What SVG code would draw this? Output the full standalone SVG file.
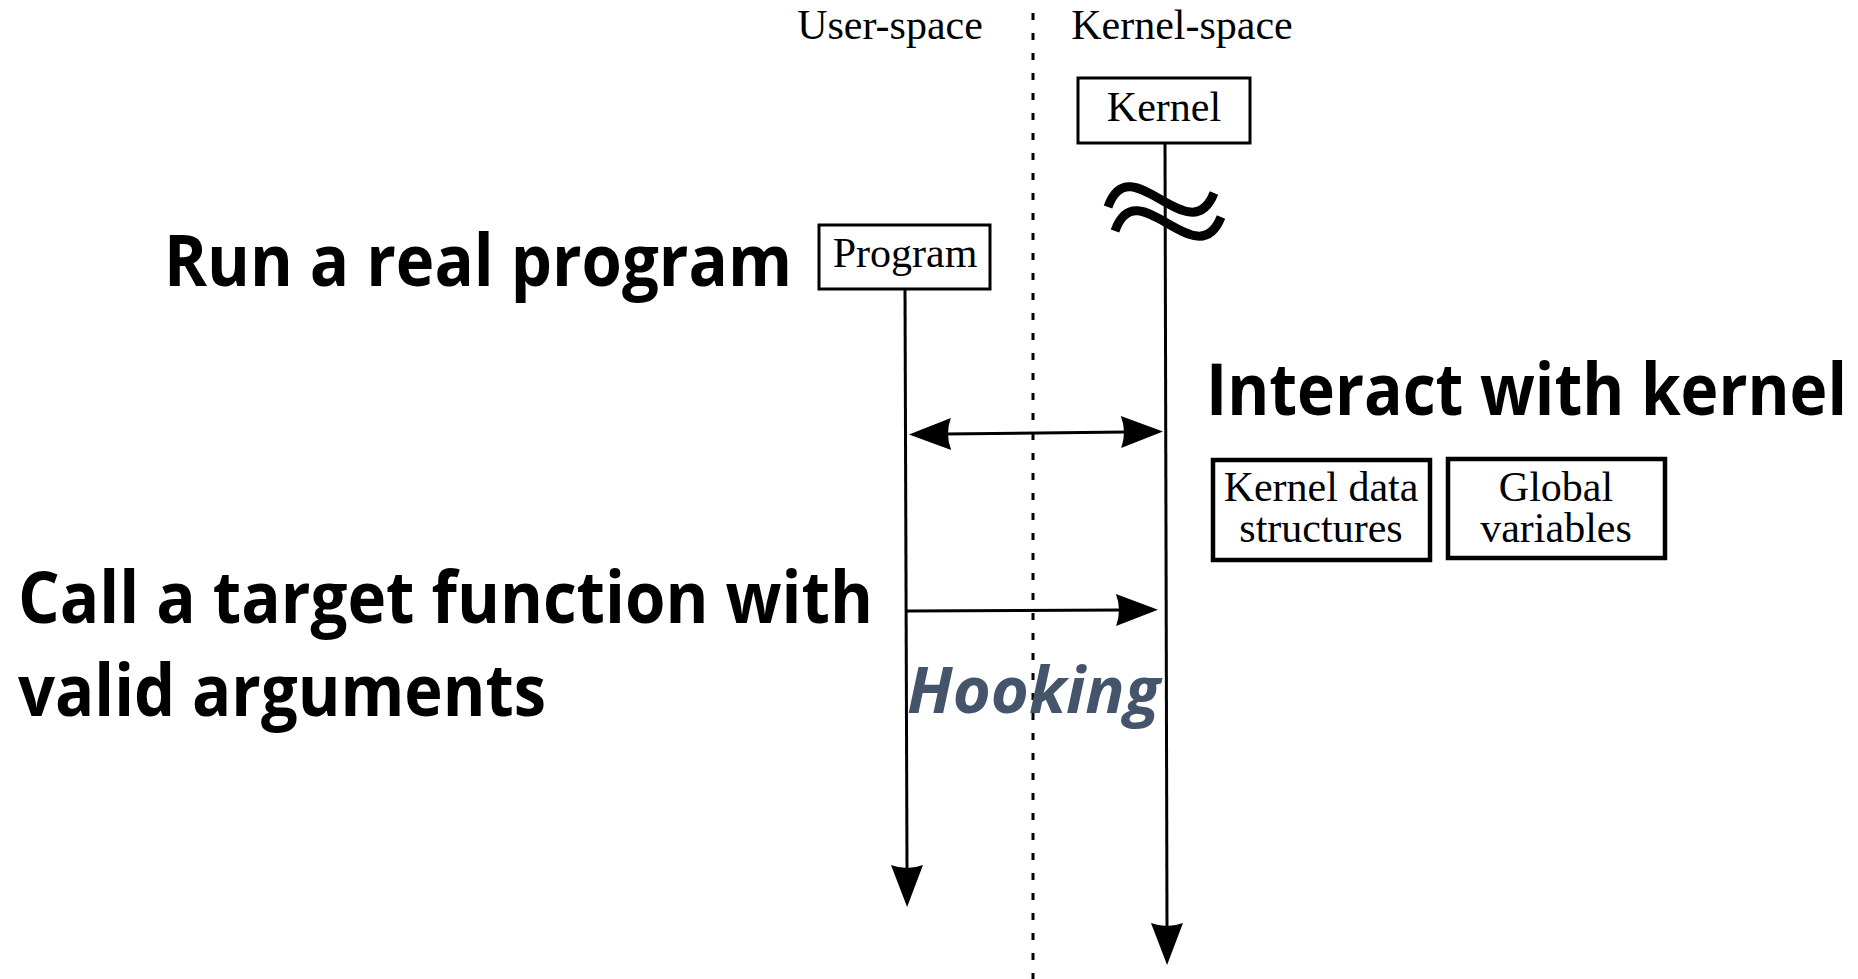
<svg xmlns="http://www.w3.org/2000/svg" width="1858" height="979" viewBox="0 0 1858 979">
  <defs>
    <style>
      .serif { font-family: "Liberation Serif", "Times New Roman", serif; font-size: 42px; fill: #000; }
      .head { font-family: "Open Sans", "Noto Sans", sans-serif; font-weight: 700; font-size: 72px; fill: #000; }
      .hook { font-family: "Open Sans", "Noto Sans", sans-serif; font-weight: 700; font-style: italic; font-size: 64px; fill: #44546a; }
      .box { fill: #fff; stroke: #000; stroke-width: 3; }
      .box-thick { fill: #fff; stroke: #000; stroke-width: 4.5; }
      .life { fill: none; stroke: #000; stroke-width: 3; }
      .msg { fill: none; stroke: #000; stroke-width: 3; }
      .divider { fill: none; stroke: #000; stroke-width: 3; stroke-dasharray: 7 13; }
      .wave { fill: none; stroke: #000; stroke-width: 9; }
    </style>
    <marker id="arrow" markerUnits="userSpaceOnUse" viewBox="-8 -18 46 36" markerWidth="46" markerHeight="36" refX="0" refY="0" orient="auto-start-reverse" overflow="visible">
      <path d="M36,0 L-6,-16 Q0,0 -6,16 Z" fill="#000"/>
    </marker>
  </defs>

  <!-- user / kernel boundary -->
  <g id="boundary">
    <line class="divider" x1="1033" y1="13" x2="1033" y2="979"/>
    <text class="serif" x="890" y="39" text-anchor="middle">User-space</text>
    <text class="serif" x="1182" y="39" text-anchor="middle">Kernel-space</text>
  </g>

  <!-- lifelines and messages -->
  <g id="connectors">
    <path class="life" d="M905,289 L907,871" marker-end="url(#arrow)"/>
    <path class="life" d="M1165,143 L1167,929" marker-end="url(#arrow)"/>
    <path class="msg" d="M945,434 L1127,432" marker-start="url(#arrow)" marker-end="url(#arrow)"/>
    <path class="msg" d="M907,611 L1122,610" marker-end="url(#arrow)"/>
    <!-- break mark on the kernel lifeline -->
    <path class="wave" d="M1108,207 C1130,144 1190,254 1214,193"/>
    <path class="wave" d="M1115,231 C1137,168 1197,278 1221,217"/>
  </g>

  <g id="kernel">
    <rect class="box" x="1078" y="78" width="172" height="65"/>
    <text class="serif" x="1164" y="121" text-anchor="middle">Kernel</text>
  </g>

  <g id="program">
    <rect class="box" x="819" y="225" width="171" height="64"/>
    <text class="serif" x="905" y="267" text-anchor="middle">Program</text>
  </g>

  <g id="kernel-data">
    <rect class="box-thick" x="1213" y="460" width="217" height="100"/>
    <text class="serif" x="1321" y="501" text-anchor="middle">Kernel data</text>
    <text class="serif" x="1321" y="542" text-anchor="middle">structures</text>
  </g>

  <g id="global-vars">
    <rect class="box-thick" x="1448" y="459" width="217" height="99"/>
    <text class="serif" x="1556" y="501" text-anchor="middle">Global</text>
    <text class="serif" x="1556" y="542" text-anchor="middle">variables</text>
  </g>

  <g id="label-run">
    <text class="head" x="164" y="286" textLength="628" lengthAdjust="spacingAndGlyphs">Run a real program</text>
  </g>

  <g id="label-interact">
    <text class="head" x="1206" y="415" textLength="641" lengthAdjust="spacingAndGlyphs">Interact with kernel</text>
  </g>

  <g id="label-call">
    <text class="head" x="18" y="623" textLength="855" lengthAdjust="spacingAndGlyphs">Call a target function with</text>
    <text class="head" x="18" y="716" textLength="528" lengthAdjust="spacingAndGlyphs">valid arguments</text>
  </g>

  <g id="label-hooking">
    <text class="hook" x="907" y="713" textLength="253" lengthAdjust="spacingAndGlyphs">Hooking</text>
  </g>
</svg>
